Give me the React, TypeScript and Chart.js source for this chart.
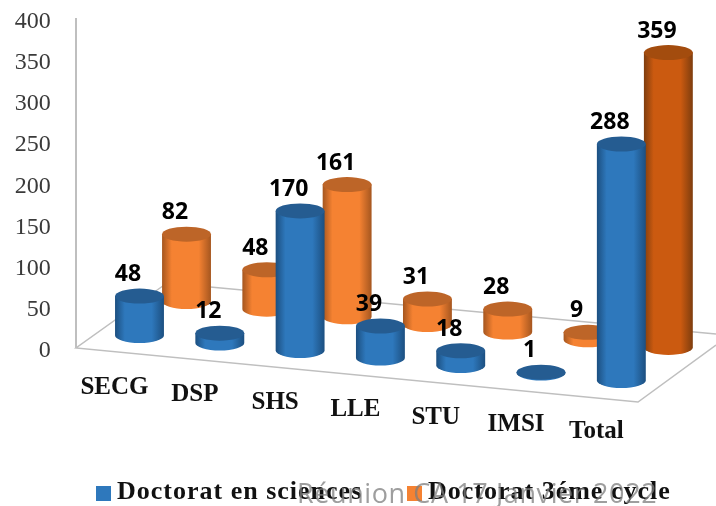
import React, { useEffect, useRef } from "react";
import { Chart, registerables } from "chart.js";

Chart.register(...registerables);

const categories = ["SECG", "DSP", "SHS", "LLE", "STU", "IMSI", "Total"];
const doctoratSciences = [48, 12, 170, 39, 18, 1, 288];
const doctorat3eCycle = [82, 48, 161, 31, 28, 9, 359];
const seriesNames = ["Doctorat en sciences", "Doctorat 3éme cycle"];
const watermark = "Réunion CA 17 Janvier 2022";

const SERIF = '"Liberation Serif", serif';
const RY = 7.5;

type Tone = { edge: string; mid: string; top: string };
const BLUE: Tone = { edge: "#1C4F80", mid: "#2E78BC", top: "#255C91" };
const ORANGE: Tone = { edge: "#A5561F", mid: "#F58232", top: "#BD6528" };
const ORANGE_TOTAL: Tone = { edge: "#7E3D0E", mid: "#CB5A10", top: "#A34C0E" };

function cylinder(ctx: CanvasRenderingContext2D, x: number, top: number, base: number, r: number, tone: Tone) {
  const g = ctx.createLinearGradient(x - r, 0, x + r, 0);
  g.addColorStop(0, tone.edge);
  g.addColorStop(0.2, tone.mid);
  g.addColorStop(0.5, tone.mid);
  g.addColorStop(0.75, tone.mid);
  g.addColorStop(1, tone.edge);
  ctx.fillStyle = g;
  ctx.beginPath();
  ctx.moveTo(x - r, top);
  ctx.lineTo(x - r, base);
  ctx.ellipse(x, base, r, RY, 0, Math.PI, 0, true);
  ctx.lineTo(x + r, top);
  ctx.closePath();
  ctx.fill();
  ctx.fillStyle = tone.top;
  ctx.beginPath();
  ctx.ellipse(x, top, r, RY, 0, 0, Math.PI * 2);
  ctx.fill();
}

const scene = {
  id: "scene",
  beforeDatasetsDraw(chart: any) {
    const ctx: CanvasRenderingContext2D = chart.ctx;
    ctx.save();
    ctx.strokeStyle = "#BFBFBF";
    ctx.lineWidth = 1.5;
    ctx.beginPath();
    ctx.moveTo(167, 283);
    ctx.lineTo(76, 348);
    ctx.lineTo(638, 402);
    ctx.lineTo(716, 345);
    ctx.moveTo(167, 283);
    ctx.lineTo(716, 334);
    ctx.stroke();
    ctx.lineWidth = 2;
    ctx.beginPath();
    ctx.moveTo(76, 18);
    ctx.lineTo(76, 348);
    ctx.stroke();
    ctx.restore();
  },
  afterDatasetsDraw(chart: any) {
    const ctx: CanvasRenderingContext2D = chart.ctx;
    const last = categories.length - 1;
    const depth = (ds: number, i: number) => (ds === 0 ? -13 + 7.5 * i : -47 + 7.65 * i);
    ctx.save();
    [1, 0].forEach((ds) => {
      chart.getDatasetMeta(ds).data.forEach((el: any, i: number) => {
        const tone = ds === 0 ? BLUE : i === last ? ORANGE_TOTAL : ORANGE;
        cylinder(ctx, el.x, el.y + depth(ds, i), el.base + depth(ds, i), el.width / 2, tone);
      });
    });
    ctx.fillStyle = "#000";
    ctx.font = 'bold 23px "Open Sans", sans-serif';
    ctx.textAlign = "center";
    ctx.textBaseline = "middle";
    [1, 0].forEach((ds) => {
      const values = chart.data.datasets[ds].data;
      chart.getDatasetMeta(ds).data.forEach((el: any, i: number) => {
        ctx.fillText(String(values[i]), el.x - 11.5, el.y + depth(ds, i) - 21.5);
      });
    });
    // category labels follow the slanted front edge of the floor
    const xs = chart.scales.x;
    ctx.fillStyle = "#111";
    ctx.font = `bold 25px ${SERIF}`;
    categories.forEach((c, i) => {
      ctx.fillText(c, xs.getPixelForValue(i) - 48.5, 387.5 + 7.4 * i);
    });
    // legend
    ctx.textAlign = "left";
    ctx.font = `bold 26px ${SERIF}`;
    (ctx as any).letterSpacing = "1px";
    const entries: [number, string][] = [[96, BLUE.mid], [407, ORANGE.mid]];
    entries.forEach(([x, colour], i) => {
      ctx.fillStyle = colour;
      ctx.fillRect(x, 486, 15, 15);
      ctx.fillStyle = "#111";
      ctx.fillText(seriesNames[i], x + 21, 492);
    });
    (ctx as any).letterSpacing = "0.6px";
    // overlaid footer
    ctx.fillStyle = "rgba(125,125,125,0.75)";
    ctx.font = '27px "Open Sans", sans-serif';
    ctx.textBaseline = "alphabetic";
    ctx.fillText(watermark, 297, 503);
    ctx.restore();
  },
};

export default function App() {
  const ref = useRef<HTMLCanvasElement>(null);
  useEffect(() => {
    const chart = new Chart(ref.current as HTMLCanvasElement, {
      type: "bar",
      data: {
        labels: categories,
        datasets: [
          { label: seriesNames[0], data: doctoratSciences, backgroundColor: "transparent" },
          { label: seriesNames[1], data: doctorat3eCycle, backgroundColor: "transparent" },
        ],
      },
      options: {
        responsive: false,
        animation: false,
        devicePixelRatio: 1,
        categoryPercentage: 1.171,
        barPercentage: 1.04,
        layout: { padding: { top: 20, right: 31, bottom: 0, left: 0 } },
        plugins: { legend: { display: false }, tooltip: { enabled: false }, title: { display: false } },
        scales: {
          x: {
            grid: { display: false },
            border: { display: false },
            ticks: { display: false },
            afterFit: (s: any) => {
              s.height = 157.5;
            },
          },
          y: {
            min: 0,
            max: 400,
            grid: { display: false, drawTicks: false },
            border: { display: false },
            ticks: {
              stepSize: 50,
              padding: 72,
              labelOffset: 2,
              color: "#3A3A3A",
              font: { family: SERIF, size: 24 },
            },
            afterFit: (s: any) => {
              s.width = 122.85;
              s.paddingTop = 0;
              s.paddingBottom = 0;
            },
          },
        },
      } as any,
      plugins: [scene],
    });
    return () => chart.destroy();
  }, []);
  return (
    <div style={{ position: "absolute", left: 0, top: 0, width: 716, height: 506, background: "#fff" }}>
      <canvas ref={ref} width={716} height={506} style={{ display: "block" }} />
    </div>
  );
}
